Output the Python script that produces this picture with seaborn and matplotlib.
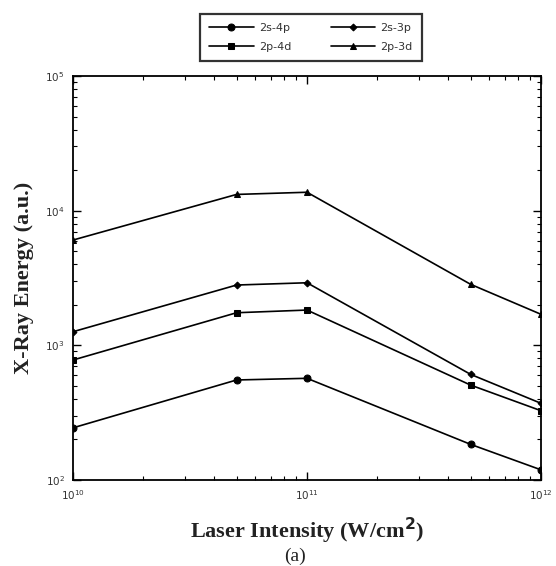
import matplotlib
matplotlib.use("Agg")
import matplotlib.pyplot as plt
import matplotlib.ticker as mticker
import numpy as np
import pandas as pd
import seaborn as sns

# Data
intensity = [1e10, 5e10, 1e11, 5e11, 1e12]
series_names = ["2s-4p", "2s-3p", "2p-4d", "2p-3d"]
energy_2s4p = [244, 553, 569, 184, 119]
energy_2s3p = [1262, 2804, 2915, 609, 371]
energy_2p4d = [778, 1746, 1828, 507, 327]
energy_2p3d = [6050, 13200, 13700, 2840, 1700]

markers = {"2s-4p": "o", "2s-3p": "D", "2p-4d": "s", "2p-3d": "^"}
msizes = {"2s-4p": 5, "2s-3p": 3.5, "2p-4d": 5, "2p-3d": 5}

rows = []
for name, vals in zip(series_names, [energy_2s4p, energy_2s3p, energy_2p4d, energy_2p3d]):
    for x, y in zip(intensity, vals):
        rows.append({"Intensity": x, "Energy": y, "Transition": name})
df = pd.DataFrame(rows)

sns.set_style("ticks")
plt.rcParams["font.family"] = ["DejaVu Sans"]

fig = plt.figure(figsize=(5.56, 5.66), dpi=100)
ax = fig.add_axes([73/556, 1-480/566, (541-73)/556, (480-76)/566])

handles = {}
for name in series_names:
    sub = df[df["Transition"] == name]
    sns.lineplot(data=sub, x="Intensity", y="Energy", ax=ax, color="black",
                 marker=markers[name], markersize=msizes[name], linewidth=1.2,
                 markeredgecolor="black", markerfacecolor="black", label=name,
                 legend=False)
    handles[name] = ax.lines[-1]

ax.set_xscale("log")
ax.set_yscale("log")
ax.set_xlim(1e10, 1e12)
ax.set_ylim(1e2, 1e5)

for sp in ax.spines.values():
    sp.set_linewidth(1.3)
    sp.set_color("black")

ax.xaxis.set_major_locator(mticker.LogLocator(base=10))
ax.yaxis.set_major_locator(mticker.LogLocator(base=10))
ax.xaxis.set_minor_locator(mticker.LogLocator(base=10, subs=np.arange(2, 10)))
ax.yaxis.set_minor_locator(mticker.LogLocator(base=10, subs=np.arange(2, 10)))
ax.xaxis.set_minor_formatter(mticker.NullFormatter())
ax.yaxis.set_minor_formatter(mticker.NullFormatter())
ax.tick_params(which="both", direction="in", top=True, right=True, colors="black")
ax.tick_params(which="major", length=6, width=1.0, labelsize=7.5, pad=6,
               labelcolor="#333333")
ax.tick_params(which="minor", length=3, width=0.8)

ax.set_xlabel("Laser Intensity (W/cm$^\\mathbf{2}$)", family="Liberation Serif",
              fontsize=16, fontweight="bold", labelpad=10, color="#222222")
ax.set_ylabel("X-Ray Energy (a.u.)", family="Liberation Serif",
              fontsize=16, fontweight="bold", labelpad=8, color="#222222")
fig.text(295/556, 1-556/566, "(a)", ha="center", va="center",
         family="Liberation Serif", fontsize=14, color="#222222")

order = ["2s-4p", "2p-4d", "2s-3p", "2p-3d"]
leg = fig.legend([handles[n] for n in order], order, ncol=2,
                 loc="center", bbox_to_anchor=(311/556, 1-37.5/566),
                 fontsize=8, frameon=True, fancybox=False, edgecolor="black",
                 handlelength=4, columnspacing=3.5, borderpad=0.8,
                 labelspacing=0.8, handletextpad=0.5)
leg.get_frame().set_linewidth(1.6)
for t in leg.get_texts():
    t.set_color("#333333")

fig.savefig("out.png", dpi=100)
